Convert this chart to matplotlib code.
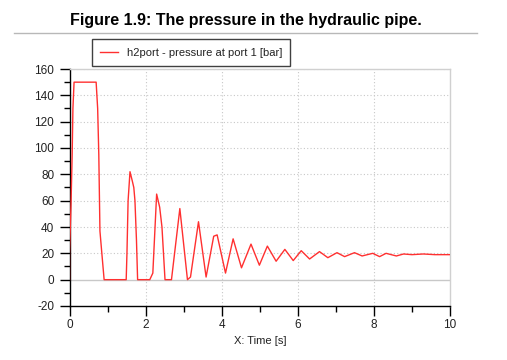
import matplotlib
matplotlib.use("Agg")
import matplotlib.pyplot as plt
from matplotlib.ticker import MultipleLocator
from matplotlib.lines import Line2D

plt.rcParams['font.family'] = ['Liberation Sans', 'DejaVu Sans']
plt.rcParams['axes.unicode_minus'] = False

title = "Figure 1.9: The pressure in the hydraulic pipe."
series_label = "h2port - pressure at port 1 [bar]"
x_label = "X: Time [s]"

time_s = [0, 0.0, 0.04, 0.07, 0.09, 0.12, 0.70, 0.74, 0.77, 0.80, 0.85, 0.91,
          1.49, 1.51, 1.54, 1.59, 1.65, 1.69, 1.72, 1.76, 1.79, 2.11, 2.19, 2.29,
          2.37, 2.43, 2.51, 2.68, 2.90, 3.10, 3.18, 3.39, 3.59, 3.79, 3.88, 4.10,
          4.30, 4.52, 4.77, 4.99, 5.20, 5.43, 5.66, 5.88, 6.09, 6.31, 6.57, 6.79,
          7.03, 7.23, 7.49, 7.69, 7.97, 8.15, 8.32, 8.59, 8.78, 9.0, 9.3, 9.6, 10.0]
pressure_bar = [0, 20, 57, 95, 130, 150, 150, 130, 95, 37, 20, 0,
                0, 20, 60, 82, 75, 70, 60, 30, 0, 0, 5, 65,
                55, 40, 0, 0, 54, 0, 2, 44, 2, 33, 34, 5,
                31, 9, 27, 11, 25.5, 14, 23, 14.5, 22, 15.7, 21.3, 16.7,
                20.5, 17.5, 20.5, 18, 20, 17.5, 20, 18, 19.5, 19, 19.5, 19, 19]

W, H = 507, 360
fig = plt.figure(figsize=(W / 100, H / 100), dpi=100)
ax = fig.add_axes([69.5 / W, 1 - 306 / H, (450 - 69.5) / W, (306 - 69) / H])

ax.plot(time_s, pressure_bar, color='#ff3030', lw=1.0, label=series_label, zorder=3)

ax.set_xlim(0, 10)
ax.set_ylim(-20, 160)
ax.xaxis.set_major_locator(MultipleLocator(2))
ax.xaxis.set_minor_locator(MultipleLocator(1))
ax.yaxis.set_major_locator(MultipleLocator(20))
ax.yaxis.set_minor_locator(MultipleLocator(10))

grid_c = '#c8c8c8'
for xv in [2, 4, 6, 8]:
    ax.axvline(xv, color=grid_c, lw=0.8, ls=(0, (1, 2)), zorder=1)
for yv in range(20, 161, 20):
    ax.axhline(yv, color=grid_c, lw=0.8, ls=(0, (1, 2)), zorder=1)
ax.axhline(0, color='#c8c8c8', lw=1.0, zorder=1)

for s in ['top', 'right']:
    ax.spines[s].set_color('#d0d0d0')
    ax.spines[s].set_linewidth(1.0)
for s in ['left', 'bottom']:
    ax.spines[s].set_color('#000000')
    ax.spines[s].set_linewidth(1.0)

ax.tick_params(which='major', length=7, width=1, color='black', labelsize=8.5,
               labelcolor='#222222')
ax.tick_params(axis='y', which='major', pad=4)
ax.tick_params(axis='x', which='major', pad=2)
ax.tick_params(which='minor', length=4, width=1, color='black')
ax.set_xlabel(x_label, fontsize=8, color='#222222', labelpad=4)

leg = ax.legend(loc='lower left', bbox_to_anchor=(91.7 / W, 1 - 66 / H),
                bbox_transform=fig.transFigure, borderaxespad=0, fontsize=8,
                handlelength=1.6, handletextpad=0.8, borderpad=0.75,
                fancybox=False, framealpha=1, edgecolor='#404040')
leg.get_frame().set_linewidth(1.0)
for t in leg.get_texts():
    t.set_color('#222222')

fig.text(246 / W, 1 - 20 / H, title, ha='center', va='center', fontsize=11.5,
         fontweight='bold', color='black')
fig.add_artist(Line2D([14 / W, 477 / W], [1 - 33 / H, 1 - 33 / H],
                      transform=fig.transFigure, color='#b8b8b8', lw=1.0))

fig.savefig('out.png', dpi=100)
